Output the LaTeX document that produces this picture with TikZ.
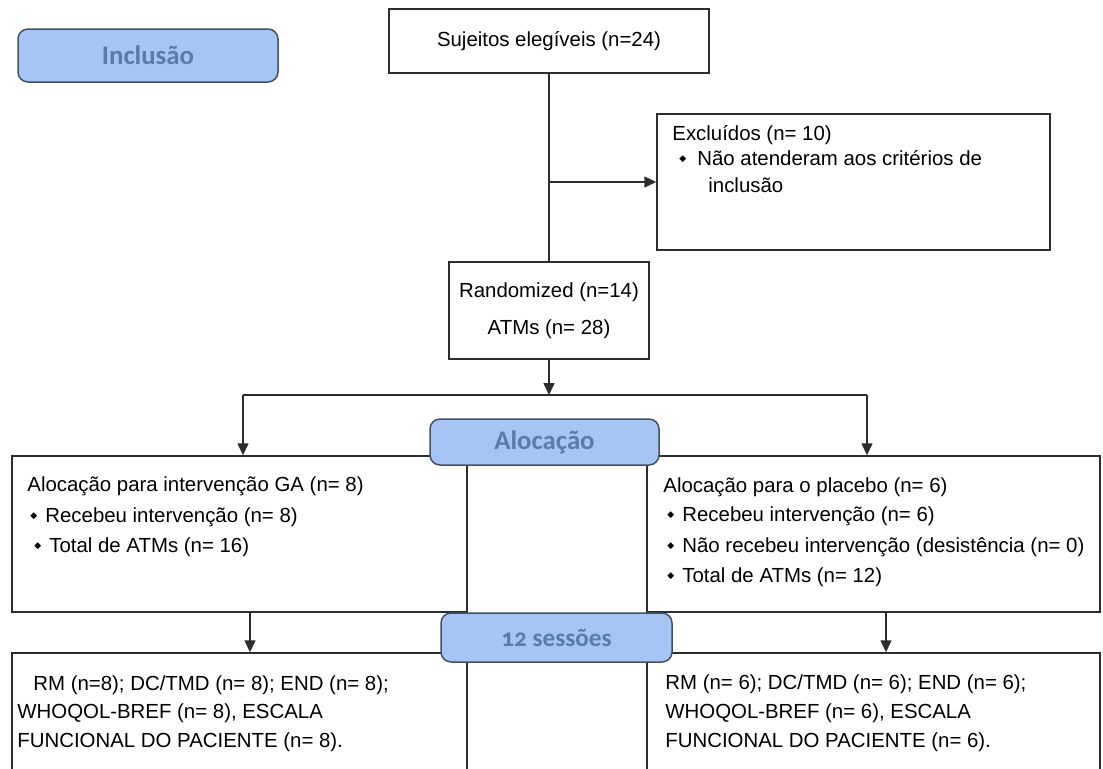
\documentclass[tikz,border=0pt]{standalone}
\usepackage{fontspec}
\setmainfont{Liberation Sans}
\newfontfamily\phasefont{Carlito}
\newfontfamily\symfont{DejaVu Sans}
\usetikzlibrary{arrows.meta,positioning}

\definecolor{phaseFill}{RGB}{166,196,244}
\definecolor{phaseText}{RGB}{90,124,172}
\definecolor{phaseDraw}{RGB}{70,80,100}
\definecolor{lineGray}{RGB}{45,45,45}

%% small diamond bullet
\newcommand{\itm}{\makebox[7.5pt][l]{\raisebox{0.35ex}{\symfont\fontsize{4.5}{4.5}\selectfont ◆}}}

\begin{document}
\begin{tikzpicture}[x=0.5pt,y=-0.5pt,%%
  boxStyle/.style={draw=lineGray,line width=0.75pt,fill=white,inner sep=0pt,
    font=\fontsize{10.2}{12.4}\selectfont},
  phaseStyle/.style={draw=phaseDraw,line width=0.75pt,fill=phaseFill,
    rounded corners=5pt,inner sep=0pt,text=phaseText,
    font=\phasefont\bfseries\fontsize{13.4}{14}\selectfont},
  lineText/.style={anchor=base west,inner sep=0pt,
    font=\fontsize{10.2}{12.4}\selectfont},
  arrowStyle/.style={-{Triangle[width=5.5pt,length=6pt]},draw=lineGray,line width=0.75pt},
  lineStyle/.style={-,draw=lineGray,line width=0.75pt}
]
\useasboundingbox (0,0) rectangle (1103,768);
%%
%% The boxes.
\node[boxStyle,minimum width=160pt,minimum height=32pt] (suj) at (549,41)
  {Sujeitos elegíveis (n=24)};
\node[boxStyle,minimum width=196.5pt,minimum height=68pt] (excl) at (853.5,182) {};
\node[boxStyle,minimum width=100pt,minimum height=48.5pt,align=center] (rand) at (549,310.5)
  {Randomized (n=14)\\[6pt]ATMs (n= 28)};
\node[boxStyle,minimum width=227.5pt,minimum height=78pt] (grpA) at (239.5,534) {};
\node[boxStyle,minimum width=226.5pt,minimum height=78pt] (grpB) at (873.5,534) {};
\node[boxStyle,minimum width=227.5pt,minimum height=63.5pt] (resA) at (239.5,716.5) {};
\node[boxStyle,minimum width=226.5pt,minimum height=63.5pt] (resB) at (873.5,716.5) {};
%%
%% Connectors.
\coordinate (split) at (549,182);
\coordinate (fork) at (549,395);
\coordinate (forkL) at (243,395);
\coordinate (forkR) at (867,395);
\coordinate (downL) at (250,612);
\coordinate (downR) at (886,612);
\draw[lineStyle] (suj.south) -- (rand.north);
\draw[arrowStyle] (split) -- (excl.west |- split);
\draw[arrowStyle] (rand.south) -- (fork);
\draw[lineStyle] (forkL) -- (forkR);
\draw[arrowStyle] (forkL) -- (forkL |- grpA.north);
\draw[arrowStyle] (forkR) -- (forkR |- grpB.north);
\draw[arrowStyle] (downL) -- (downL |- resA.north);
\draw[arrowStyle] (downR) -- (downR |- resB.north);
\draw[lineStyle] (grpA.south east) -- (resA.north east);
\draw[lineStyle] (grpB.south west) -- (resB.north west);
%%
%% The phase labels.
\node[phaseStyle,minimum width=130pt,minimum height=26.5pt] (incl) at (148,55.5) {Inclusão};
\node[phaseStyle,minimum width=114.5pt,minimum height=23pt] (aloc) at (544.5,442) {Alocação};
\node[phaseStyle,minimum width=115.5pt,minimum height=24.5pt,
  font=\phasefont\bfseries\fontsize{12.6}{14}\selectfont] (sess) at (556.5,637.5)
  {\addfontfeatures{Numbers=OldStyle}12 sessões};
%%
%% Text of the excluded box.
\node[lineText] (exclA) at (672,140) {Excluídos (n= 10)};
\node[lineText] (exclB) at (679,165) {\itm\hspace{1.5pt}Não atenderam aos critérios de};
\node[lineText] (exclC) at (708,192) {inclusão};
%% Text of the group boxes.
\node[lineText] (grpAa) at (27,491) {Alocação para intervenção GA (n= 8)};
\node[lineText] (grpAb) at (30,522) {\itm Recebeu intervenção (n= 8)};
\node[lineText] (grpAc) at (34,552) {\itm Total de ATMs (n= 16)};
\node[lineText] (grpBa) at (663,492) {Alocação para o placebo (n= 6)};
\node[lineText] (grpBb) at (667,521) {\itm Recebeu intervenção (n= 6)};
\node[lineText] (grpBc) at (667,552) {\itm Não recebeu intervenção (desistência (n= 0)};
\node[lineText] (grpBd) at (667,582) {\itm Total de ATMs (n= 12)};
%% Text of the result boxes.
\node[lineText] (resAa) at (33,690) {RM (n=8); DC/TMD (n= 8); END (n= 8);};
\node[lineText] (resAb) at (17,718) {WHOQOL-BREF (n= 8), ESCALA};
\node[lineText] (resAc) at (17,747) {FUNCIONAL DO PACIENTE (n= 8).};
\node[lineText] (resBa) at (665,689) {RM (n= 6); DC/TMD (n= 6); END (n= 6);};
\node[lineText] (resBb) at (665,718) {WHOQOL-BREF (n= 6), ESCALA};
\node[lineText] (resBc) at (665,747) {FUNCIONAL DO PACIENTE (n= 6).};
\end{tikzpicture}
\end{document}
